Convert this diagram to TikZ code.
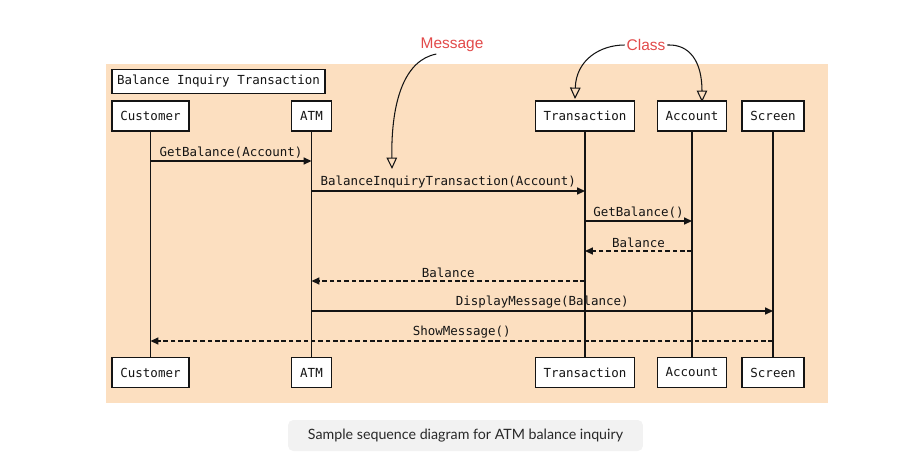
\documentclass[tikz,border=0pt]{standalone}
\usepackage{fontspec}
\setmonofont{DejaVu Sans Mono}
\newfontfamily\rotulofont{Liberation Sans}
\newfontfamily\piefont{Lato}
\usepackage{tikz}
\usetikzlibrary{arrows.meta, positioning}
\definecolor{Melocoton}{RGB}{252,223,192}
\definecolor{Rojo}     {RGB}{226,74, 74}
\definecolor{GrisCaja} {RGB}{242,242,242}
\definecolor{Tinta}    {RGB}{20, 20, 20}
\definecolor{Grafito}  {RGB}{40, 40, 40}

\begin{document}
\begin{tikzpicture}[x=0.02cm,y=-0.02cm,
    actor/.style={draw=Tinta,fill=white,line width=0.75pt,minimum height=0.6cm,inner xsep=0.17cm,
      font=\ttfamily\fontsize{7.1}{8}\selectfont,text=Tinta},
    msg/.style={line width=0.75pt,Tinta,-{Triangle[length=4.5pt,width=4pt]}},
    reply/.style={msg,dash pattern=on 2.6pt off 1.6pt},
    note/.style={line width=0.6pt,Tinta,-{Triangle[open,length=6.5pt,width=6pt]}},
    tag/.style={font=\rotulofont\fontsize{8.8}{10}\selectfont,text=Rojo,inner sep=1pt}]
  \useasboundingbox (0,0) rectangle (921,468);
  \fill[Melocoton] (106,64) rectangle (828,403);
  \node[actor,minimum height=0.46cm,inner xsep=0.1cm] (titulo) at (218.5,81.5) {Balance Inquiry Transaction};
  \foreach \n/\x/\t in {cust/150.5/Customer,atm/311.5/ATM,trans/585/Transaction,acc/692/Account,scr/773/Screen}{
    \node[actor] (\n top) at (\x,116) {\t};
    \node[actor] (\n bot) at (\x,372.5) {\t};
    \draw[line width=0.85pt,Tinta] (\n top) -- (\n bot);
  }
  \foreach \a/\b/\y/\s/\t in {cust/atm/161/msg/GetBalance(Account),atm/trans/191/msg/BalanceInquiryTransaction(Account),
      trans/acc/221/msg/GetBalance(),acc/trans/251/reply/Balance,trans/atm/281/reply/Balance,
      atm/scr/311/msg/DisplayMessage(Balance),scr/cust/341/reply/ShowMessage()}{
    \draw[\s] (\a top |- 0,\y) -- (\b top |- 0,\y)
      node[midway,above,inner sep=1.5pt,font=\ttfamily\fontsize{7.1}{8}\selectfont,text=Tinta]{\t};
  }
  \node[tag] (mensaje) at (452,45) {Message};
  \node[tag] (clase) at (646,45) {Class};
  \coordinate (pmsg) at (392,169);
  \coordinate (ptrans) at (575,99);
  \coordinate (pacc) at (702,102);
  \draw[note] (mensaje.210) .. controls (405,60) and (391,100) .. (pmsg);
  \draw[note] (clase.west) .. controls (600,45) and (576,60) .. (ptrans);
  \draw[note] (clase.east) .. controls (690,44) and (702,62) .. (pacc);
  \node[fill=GrisCaja,rounded corners=3pt,minimum width=7.1cm,minimum height=0.62cm,
    font=\piefont\fontsize{8.1}{10}\selectfont,text=Grafito] (pie) at (465.5,435.5)
    {Sample sequence diagram for ATM balance inquiry};
\end{tikzpicture}
\end{document}
